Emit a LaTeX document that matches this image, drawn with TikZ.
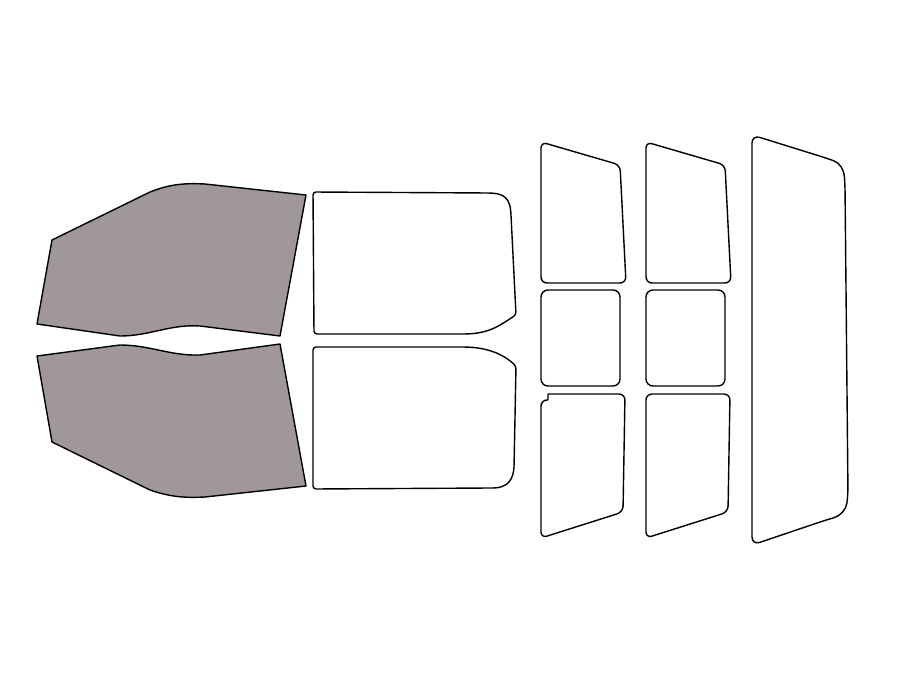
\documentclass[tikz,border=0pt]{standalone}
\usepackage{tikz}
\definecolor{tint}{RGB}{160,152,152}
\tikzset{
  pane/.style={draw=black, line width=1.4pt, line join=round, fill=white},
  tinted/.style={pane, fill=tint}
}
\begin{document}
\begin{tikzpicture}[x=1pt, y=-1pt]
  \useasboundingbox (0,0) rectangle (900,675);

  % Front doors (tinted)
  \draw[tinted] (52,240) -- (150,192) .. controls (170,184) and (185,183) .. (205,184)
    -- (306,195) -- (280,336) -- (200,326) .. controls (170,324) and (150,336) .. (120,336)
    -- (37,324) -- cycle;
  \draw[tinted] (37,356) -- (120,345) .. controls (150,345) and (170,356) .. (200,355)
    -- (280,344) -- (306,486) -- (205,497) .. controls (185,498) and (170,497) .. (150,490)
    -- (52,442) -- cycle;

  % Rear doors
  \draw[pane, rounded corners=3pt] (313,192) -- (490,193) .. controls (505,194) and (510,200) .. (511,215)
    -- (516,315) .. controls (500,325) and (490,334) .. (460,334) -- (314,334) -- cycle;
  \draw[pane, rounded corners=3pt] (313,347) -- (460,347) .. controls (490,347) and (505,356) .. (516,366)
    -- (514,468) .. controls (512,482) and (505,488) .. (490,488) -- (313,489) -- cycle;

  % Small side windows
  \foreach \dx in {0,105}{
    \draw[pane, rounded corners=6pt] (541+\dx,142) -- (620+\dx,165) -- (626+\dx,283)
      -- (541+\dx,283) -- cycle;
    \draw[pane, rounded corners=7pt] (541+\dx,290) rectangle (620+\dx,386);
  }
  \draw[pane] (548,400) -- (548,394) [rounded corners=6pt] -- (625,394)
    -- (623,512) -- (541,538) -- (541,400) [sharp corners] -- cycle;
  \draw[pane, rounded corners=6pt] (646,394) -- (730,394) -- (728,512) -- (646,538) -- cycle;

  % Back window
  \draw[pane, rounded corners=8pt] (752,135) -- (826,158) .. controls (840,163) and (844,170) .. (845,185)
    -- (848,495) .. controls (846,510) and (840,516) .. (826,520) -- (752,545) -- cycle;
\end{tikzpicture}
\end{document}
